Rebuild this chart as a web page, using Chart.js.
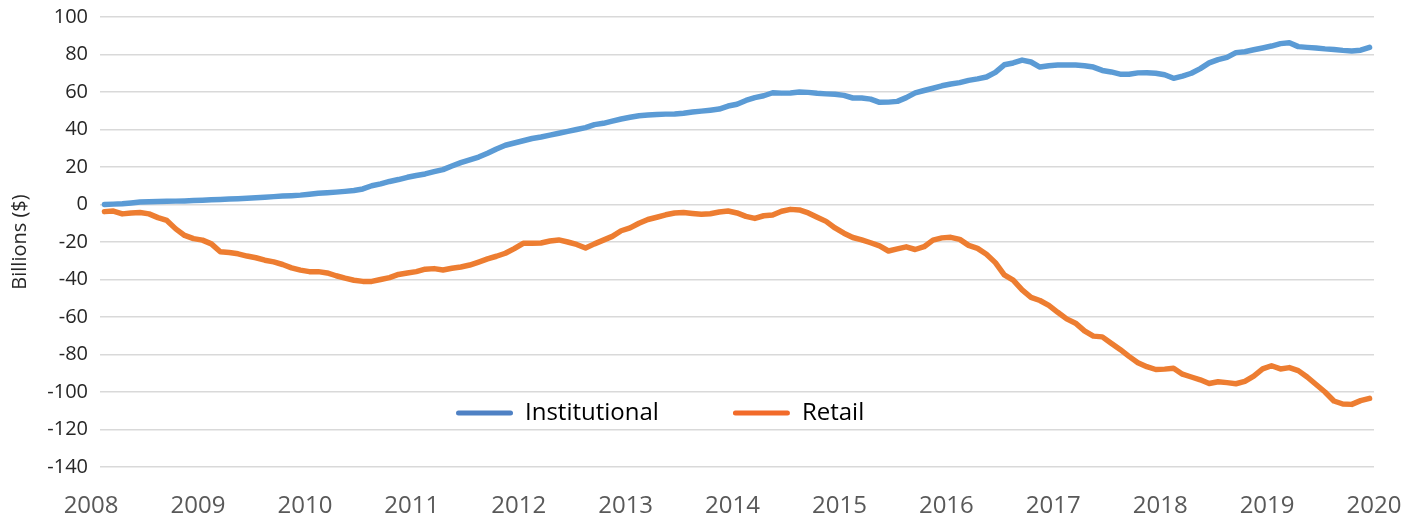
<!DOCTYPE html>
<html>
<head>
<meta charset="utf-8">
<script src="https://cdn.jsdelivr.net/npm/chart.js@4.4.1/dist/chart.umd.min.js"></script>
<style>
  html, body { margin: 0; padding: 0; background: #ffffff; }
  canvas { display: block; }
</style>
</head>
<body>
<canvas id="c" width="1418" height="518"></canvas>
<script>
// ---- data (monthly, Feb 2008 .. Dec 2019), billions of dollars ----
const firstYear = 2008;
const firstMonth = 2; // February
const seriesNames = ['Institutional', 'Retail'];

const institutional = [
  0, 0.2, 0.4, 0.8, 1.3, 1.5, 1.6, 1.7, 1.8, 1.9,
  2.1, 2.3, 2.5, 2.7, 2.9, 3.1, 3.3, 3.6, 3.9, 4.2,
  4.5, 4.7, 5.0, 5.5, 6.0, 6.3, 6.6, 7.0, 7.5, 8.3,
  10.0, 11.0, 12.3, 13.3, 14.5, 15.5, 16.3, 17.5, 18.6, 20.5,
  22.3, 23.8, 25.3, 27.3, 29.6, 31.6, 32.8, 34.0, 35.2, 36.0,
  37.0, 38.0, 39.0, 40.0, 41.0, 42.6, 43.3, 44.5, 45.6, 46.5,
  47.3, 47.7, 48.0, 48.2, 48.3, 48.7, 49.3, 49.8, 50.3, 50.9,
  52.5, 53.5, 55.5, 57.0, 58.0, 59.6, 59.4, 59.5, 60.0, 59.8,
  59.3, 59.0, 58.8, 58.2, 56.8, 56.8, 56.2, 54.5, 54.6, 55.0,
  57.0, 59.5, 60.8, 62.0, 63.3, 64.3, 65.0, 66.2, 67.0, 68.0,
  70.5, 74.5, 75.5, 77.0, 76.0, 73.3, 74.0, 74.4, 74.4, 74.4,
  74.0, 73.3, 71.5, 70.7, 69.5, 69.5, 70.2, 70.3, 70.0, 69.2,
  67.3, 68.5, 70.0, 72.5, 75.5, 77.3, 78.5, 81.0, 81.5, 82.5,
  83.5, 84.5, 85.8, 86.3, 84.2, 83.8, 83.5, 83.0, 82.7, 82.2,
  81.9, 82.3, 83.8
];

const retail = [
  -3.8, -3.5, -5.0, -4.5, -4.3, -5.0, -7.0, -8.5, -13.0, -16.5,
  -18.2, -19.0, -21.0, -25.2, -25.6, -26.3, -27.5, -28.4, -29.7, -30.6,
  -32.0, -33.8, -35.0, -35.8, -35.8, -36.5, -38.0, -39.3, -40.4, -41.0,
  -41.0, -40.0, -39.0, -37.3, -36.5, -35.8, -34.5, -34.2, -34.9, -34.0,
  -33.3, -32.3, -30.7, -29.0, -27.6, -26.0, -23.5, -20.7, -20.7, -20.5,
  -19.5, -18.9, -20.0, -21.3, -23.2, -21.0, -19.0, -17.0, -14.0, -12.5,
  -10.0, -8.0, -6.8, -5.5, -4.5, -4.3, -4.8, -5.2, -4.9, -4.0,
  -3.5, -4.5, -6.3, -7.4, -6.0, -5.6, -3.6, -2.6, -2.9, -4.5,
  -6.8, -9.0, -12.5, -15.3, -17.6, -18.9, -20.4, -22.1, -24.8, -23.7,
  -22.6, -24.0, -22.5, -19.0, -17.8, -17.5, -18.6, -21.8, -23.4, -26.5,
  -31.0, -37.5, -40.3, -45.5, -49.5, -51.2, -53.8, -57.5, -61.0, -63.3,
  -67.4, -70.2, -70.6, -74.0, -77.3, -81.0, -84.4, -86.5, -88.0, -87.8,
  -87.3, -90.5, -92.0, -93.5, -95.5, -94.5, -95.0, -95.6, -94.3, -91.5,
  -87.7, -86.0, -87.7, -87.0, -88.6, -92.0, -96.0, -100.0, -104.8, -106.4,
  -106.6, -104.6, -103.4
];

const yearLabels = ['2008','2009','2010','2011','2012','2013','2014','2015','2016','2017','2018','2019','2020'];
const yTicks = { min: -140, max: 100, step: 20 };
const axisTitle = 'Billions ($)';

// ---- build chart ----
// x value = months since Jan of the first year (mid-month)
const toPoints = arr => arr.map((v, i) => ({ x: (firstMonth - 1) + i + 0.5, y: v }));

const lineColors = ['#5b9bd5', '#ed7d31'];
const swatchColors = ['#4f81c4', '#f26b2a'];
const FONT = '"Open Sans", "Segoe UI", Arial, sans-serif';

const legendPlacer = {
  id: 'legendPlacer',
  beforeLayout(chart) {
    if (chart.legend) chart.legend.isHorizontal = () => true;
  },
  beforeDraw(chart) {
    const lg = chart.legend;
    if (!lg) return;
    const pad = chart.options.plugins.legend.labels.padding;
    const h = lg.height;
    lg.left = 456 - pad;
    lg.right = chart.width;
    lg.top = 413 - pad - 12;
    lg.bottom = lg.top + h;
    lg.width = lg.right - lg.left;
  }
};

new Chart(document.getElementById('c'), {
  type: 'line',
  data: {
    datasets: [
      { label: seriesNames[0], data: toPoints(institutional), borderColor: lineColors[0], backgroundColor: lineColors[0] },
      { label: seriesNames[1], data: toPoints(retail), borderColor: lineColors[1], backgroundColor: lineColors[1] }
    ]
  },
  options: {
    responsive: false,
    animation: false,
    devicePixelRatio: 1,
    layout: { padding: { top: 17, right: 44, bottom: 0, left: 0 } },
    elements: {
      line: { borderWidth: 5.5, tension: 0, borderCapStyle: 'round', borderJoinStyle: 'round' },
      point: { radius: 0, hoverRadius: 0 }
    },
    scales: {
      x: {
        type: 'linear',
        min: 1,
        max: (yearLabels.length - 1) * 12,
        grid: { display: false },
        border: { display: false },
        afterBuildTicks: s => { s.ticks = yearLabels.map((_, k) => ({ value: k * 12 })); },
        afterFit: s => { s.height = 51; s.paddingLeft = 0; s.paddingRight = 0; },
        ticks: {
          autoSkip: false,
          maxRotation: 0,
          padding: 17,
          color: '#595959',
          font: { family: FONT, size: 24 },
          callback: (v, idx) => yearLabels[idx]
        }
      },
      y: {
        min: yTicks.min,
        max: yTicks.max,
        afterFit: s => { s.width = 100; s.paddingTop = 0; s.paddingBottom = 0; },
        grid: { color: '#d9d9d9', lineWidth: 1.6, drawTicks: false },
        border: { display: false },
        ticks: {
          stepSize: yTicks.step,
          padding: 12,
          color: '#262626',
          font: { family: FONT, size: 20 }
        },
        title: {
          display: true,
          text: axisTitle,
          color: '#262626',
          font: { family: FONT, size: 20 },
          padding: { top: 8, bottom: 0 }
        }
      }
    },
    plugins: {
      tooltip: { enabled: false },
      legend: {
        position: 'chartArea',
        align: 'start',
        labels: {
          boxWidth: 57,
          boxHeight: 5,
          padding: 74,
          color: '#1f1f1f',
          useBorderRadius: true,
          borderRadius: 2.5,
          font: { family: FONT, size: 24 },
          generateLabels: chart => chart.data.datasets.map((ds, i) => ({
            text: ds.label,
            fillStyle: swatchColors[i],
            strokeStyle: swatchColors[i],
            lineWidth: 0,
            borderRadius: 2.5,
            datasetIndex: i,
            hidden: false
          }))
        }
      }
    }
  },
  plugins: [legendPlacer]
});
</script>
</body>
</html>
